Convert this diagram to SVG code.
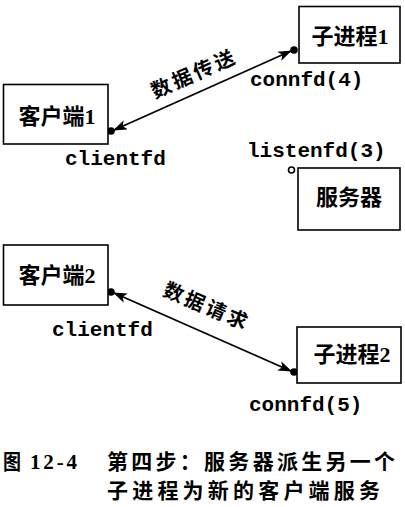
<svg xmlns="http://www.w3.org/2000/svg" width="405" height="507" viewBox="0 0 405 507">
<style>
.box{fill:#fff;stroke:#000;stroke-width:1.6}
.nt{font-family:"Liberation Serif","Noto Sans CJK SC",serif;font-size:22px;font-weight:bold;fill:#000;text-anchor:middle}
.mono{font-family:"Liberation Mono",monospace;font-weight:bold;font-size:21px;fill:#000}
.lbl{font-family:"Noto Sans CJK SC",sans-serif;font-weight:bold;font-size:20px;fill:#000;text-anchor:middle}
.cap{font-family:"Liberation Serif","Noto Sans CJK SC",serif;font-size:21px;font-weight:bold;fill:#000}
.edge{stroke:#000;stroke-width:1.8;fill:none}
</style>
<defs>
<marker id="ah" viewBox="0 0 14 10" refX="14" refY="5" markerWidth="14" markerHeight="10" markerUnits="userSpaceOnUse" orient="auto-start-reverse">
<path d="M0,0 L14,5 L0,10 L3.5,5 Z" fill="#000"/>
</marker>
</defs>
<rect width="405" height="507" fill="#fff"/>
<g id="connectors">
<line class="edge" x1="113" y1="130.5" x2="292" y2="50.5" marker-start="url(#ah)" marker-end="url(#ah)"/>
<line class="edge" x1="113" y1="292.5" x2="292" y2="371.5" marker-start="url(#ah)" marker-end="url(#ah)"/>
<circle cx="111" cy="131" r="3.8" fill="#000"/>
<circle cx="294" cy="50" r="3.8" fill="#000"/>
<circle cx="111" cy="292" r="3.8" fill="#000"/>
<circle cx="294" cy="372" r="3.8" fill="#000"/>
<circle cx="291.5" cy="170" r="3" fill="#fff" stroke="#000" stroke-width="1.6"/>
<text class="lbl" transform="translate(197,80) rotate(-24)" letter-spacing="3">数据传送</text>
<text class="lbl" transform="translate(204,313) rotate(23)" letter-spacing="3">数据请求</text>
</g>
<g id="child1">
<rect class="box" x="299" y="6.5" width="101" height="56.5"/>
<text class="nt" x="350" y="44">子进程1</text>
<text class="mono" x="250" y="86">connfd(4)</text>
</g>
<g id="client1">
<rect class="box" x="3.5" y="84.5" width="104.5" height="59.5"/>
<text class="nt" x="57" y="124">客户端1</text>
<text class="mono" x="65" y="165">clientfd</text>
</g>
<g id="server">
<rect class="box" x="298" y="168" width="102" height="62"/>
<text class="nt" x="349" y="205">服务器</text>
<text class="mono" x="247" y="157">listenfd(3)</text>
</g>
<g id="client2">
<rect class="box" x="3.5" y="245" width="104.5" height="60"/>
<text class="nt" x="57" y="283">客户端2</text>
<text class="mono" x="52" y="336">clientfd</text>
</g>
<g id="child2">
<rect class="box" x="297" y="327" width="104" height="56"/>
<text class="nt" x="352" y="362">子进程2</text>
<text class="mono" x="249" y="411">connfd(5)</text>
</g>
<g id="caption">
<text class="cap" x="3" y="469" textLength="18" lengthAdjust="spacingAndGlyphs">图</text>
<text class="cap" x="30" y="469" textLength="47" lengthAdjust="spacing">12-4</text>
<text class="cap" x="107" y="469" textLength="288" lengthAdjust="spacing">第四步：服务器派生另一个</text>
<text class="cap" x="107" y="498" textLength="273" lengthAdjust="spacing">子进程为新的客户端服务</text>
</g>
</svg>
